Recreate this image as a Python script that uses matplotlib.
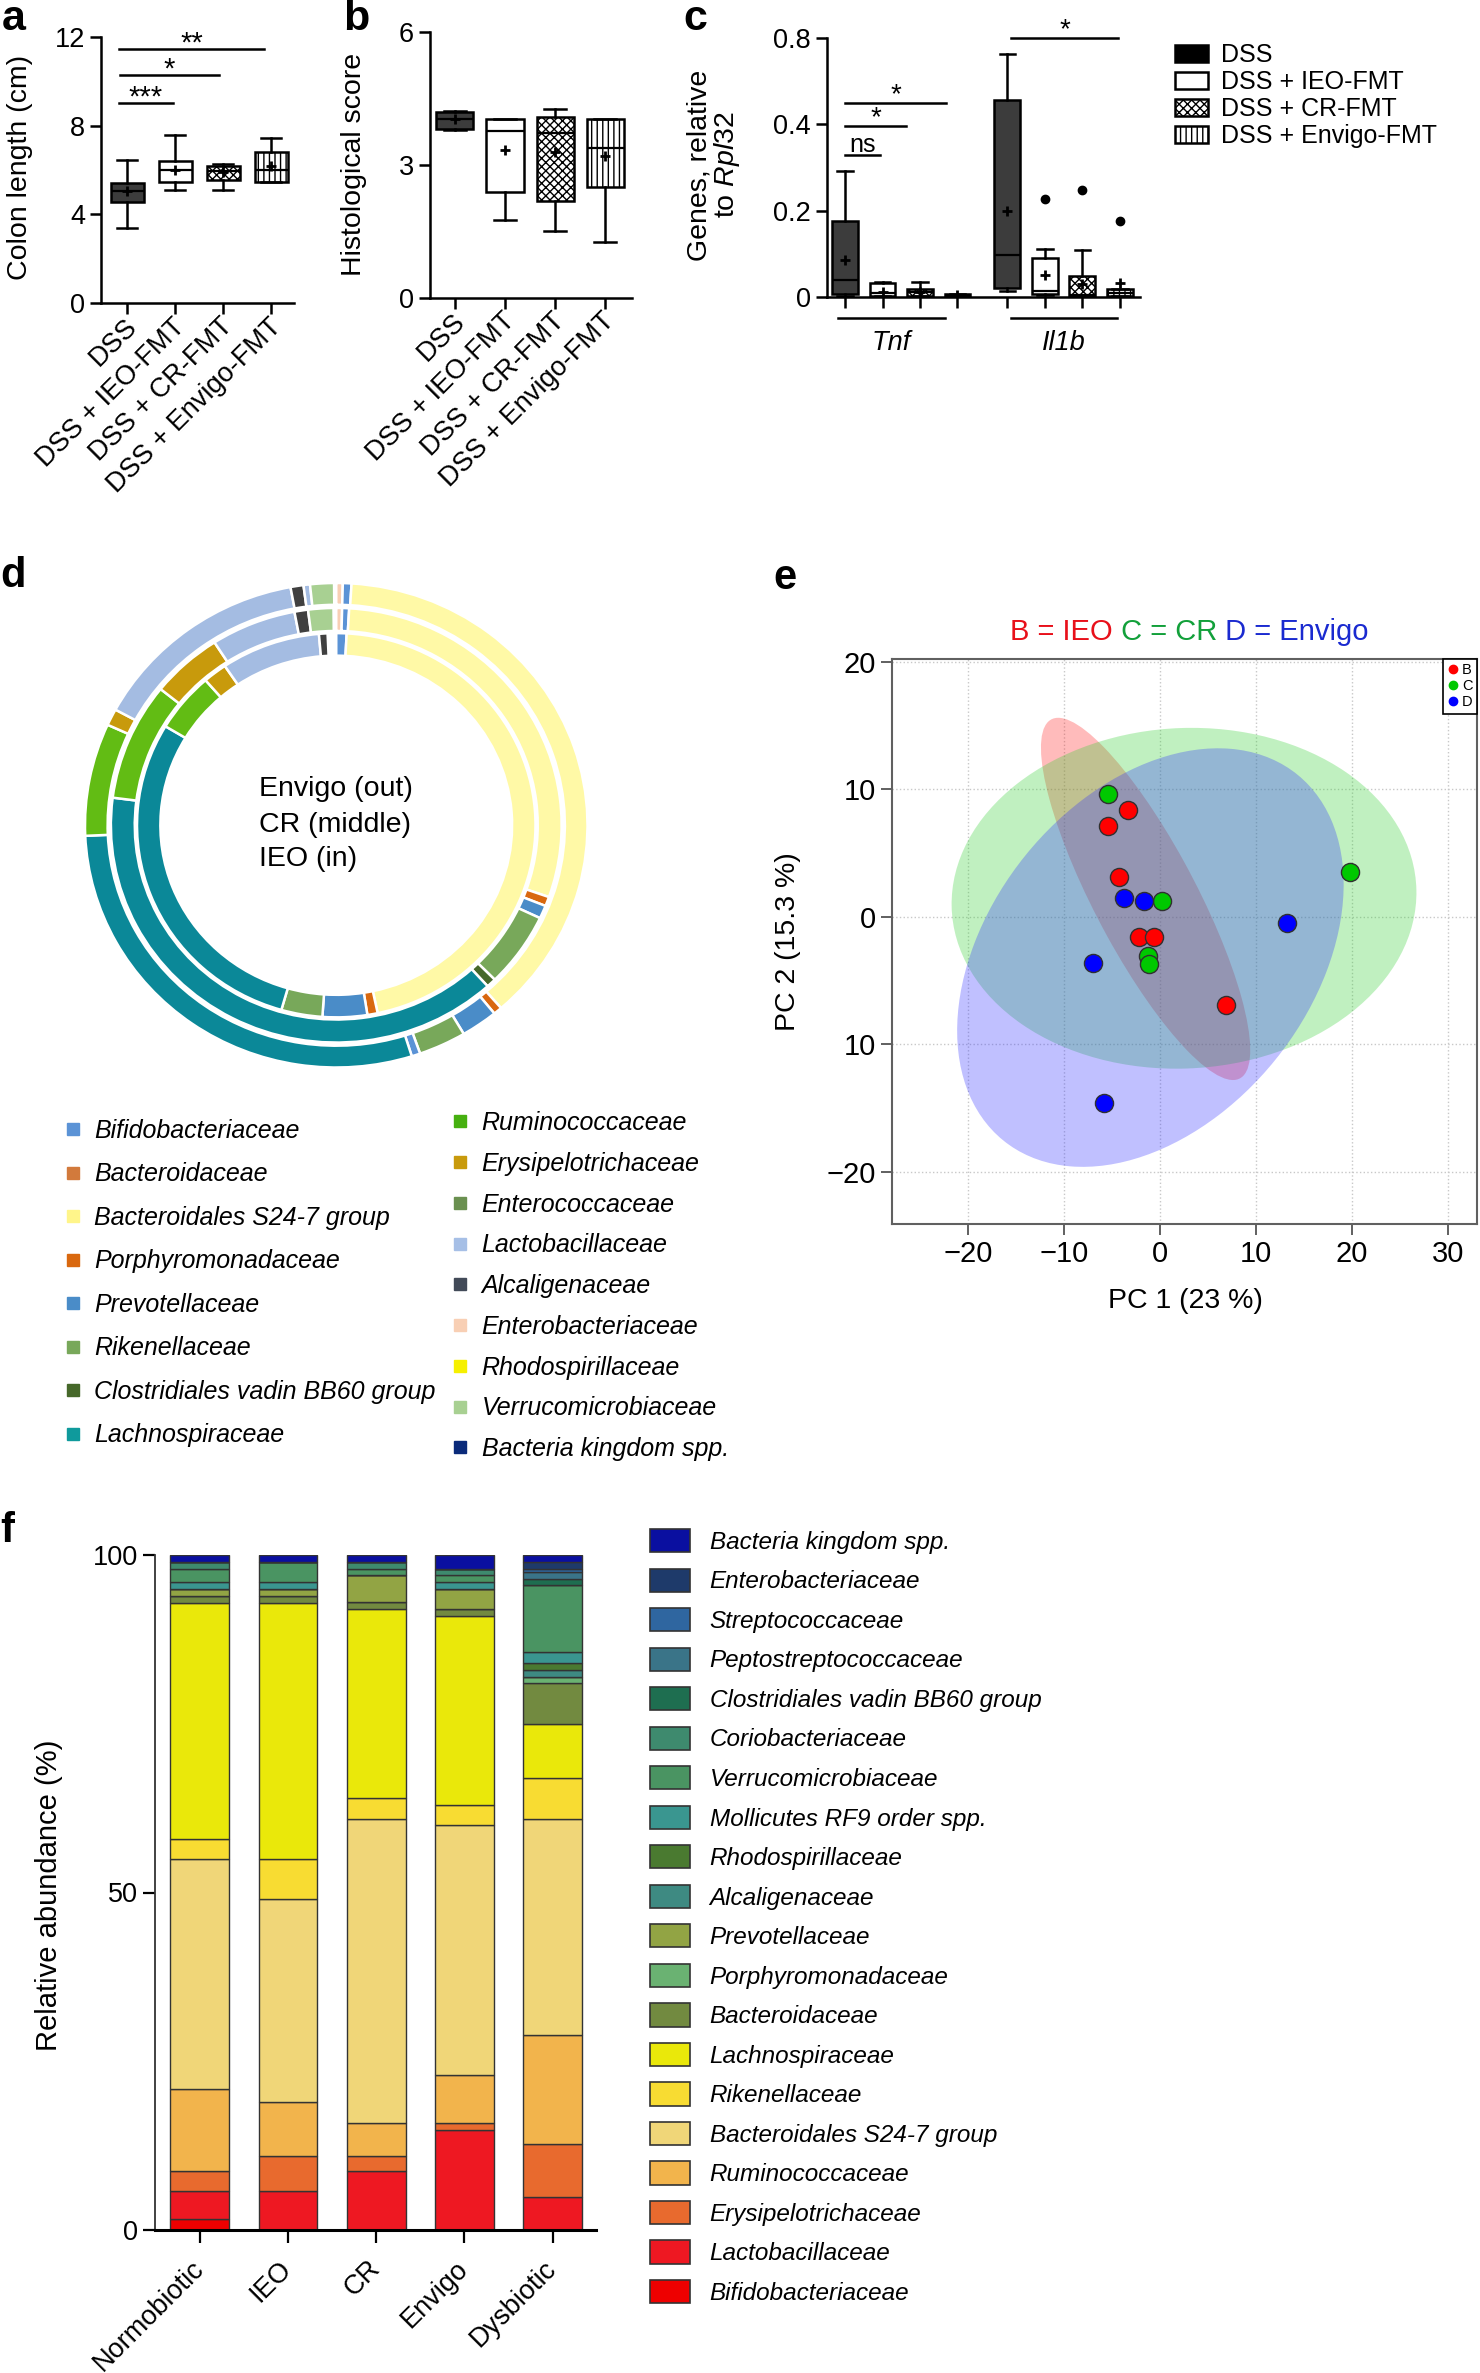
import numpy as np
import matplotlib
matplotlib.use('Agg')
import matplotlib.pyplot as plt
from matplotlib.patches import Patch, Ellipse
from matplotlib.lines import Line2D
from matplotlib.transforms import ScaledTranslation

plt.rcParams['font.family'] = ['Liberation Sans', 'DejaVu Sans']
plt.rcParams['mathtext.fontset'] = 'custom'
plt.rcParams['mathtext.rm'] = 'Liberation Sans'
plt.rcParams['mathtext.it'] = 'Liberation Sans:italic'
plt.rcParams['hatch.linewidth'] = 1.0

# ---------------- data ----------------
groups = ['DSS', 'DSS + IEO-FMT', 'DSS + CR-FMT', 'DSS + Envigo-FMT']

# a: colon length (cm)
colon_whislo = [3.40, 5.08, 5.08, 5.48]
colon_q1 = [4.57, 5.48, 5.53, 5.48]
colon_med = [5.05, 5.99, 5.95, 5.99]
colon_q3 = [5.41, 6.41, 6.20, 6.80]
colon_whishi = [6.47, 7.58, 6.29, 7.43]
colon_mean = [5.05, 6.00, 5.93, 6.17]
colon_sig = [('***', -0.17, 0.94, 9.02), ('*', -0.15, 1.90, 10.28), ('**', -0.17, 2.84, 11.46)]

# b: histological score
hist_whislo = [3.79, 1.75, 1.50, 1.26]
hist_q1 = [3.81, 2.38, 2.17, 2.50]
hist_med = [4.02, 3.75, 3.72, 3.38]
hist_q3 = [4.19, 4.02, 4.07, 4.02]
hist_whishi = [4.21, 4.02, 4.25, 4.02]
hist_mean = [4.02, 3.33, 3.29, 3.20]

# c: genes relative to Rpl32 (Tnf x4, Il1b x4)
gene_pos = [0, 1, 2, 3, 4.33, 5.33, 6.33, 7.33]
gene_whislo = [0.003, 0.002, 0.002, 0.001, 0.014, 0.004, 0.002, 0.002]
gene_q1 = [0.006, 0.003, 0.003, 0.002, 0.022, 0.006, 0.003, 0.003]
gene_med = [0.040, 0.010, 0.012, 0.004, 0.098, 0.013, 0.005, 0.010]
gene_q3 = [0.177, 0.032, 0.018, 0.007, 0.514, 0.091, 0.048, 0.018]
gene_whishi = [0.292, 0.035, 0.034, 0.008, 0.726, 0.112, 0.109, 0.018]
gene_mean = [0.085, 0.012, 0.012, 0.004, 0.200, 0.052, 0.030, 0.032]
gene_fliers = [[], [], [], [], [], [0.227], [0.248], [0.175]]
gene_sig = [('ns', 0.0, 0.92, 0.329), ('*', 0.0, 1.63, 0.395), ('*', 0.0, 2.69, 0.498), ('*', 4.44, 7.27, 0.80)]
gene_groups = [('Tnf', -0.19, 2.67), ('Il1b', 4.44, 7.25)]

# d: family rings (segments clockwise from the top, in degrees)
ring_envigo_names = ['Enterobacteriaceae', 'Bifidobacteriaceae', 'Bacteroidales S24-7 group', 'Porphyromonadaceae',
                     'Prevotellaceae', 'Rikenellaceae', 'Bifidobacteriaceae', 'Lachnospiraceae', 'Ruminococcaceae',
                     'Erysipelotrichaceae', 'Lactobacillaceae', 'Alcaligenaceae', 'Lactobacillaceae',
                     'Verrucomicrobiaceae']
ring_envigo_deg = [1.5, 2.0, 135.5, 2.0, 8.5, 11.0, 2.0, 105.0, 27.0, 4.0, 51.0, 3.0, 1.5, 5.5]
ring_cr_names = ['Enterobacteriaceae', 'Bifidobacteriaceae', 'Bacteroidales S24-7 group', 'Porphyromonadaceae',
                 'Prevotellaceae', 'Rikenellaceae', 'Clostridiales vadin BB60 group', 'Lachnospiraceae',
                 'Ruminococcaceae', 'Erysipelotrichaceae', 'Lactobacillaceae', 'Alcaligenaceae',
                 'Verrucomicrobiaceae']
ring_cr_deg = [1.5, 1.8, 106.0, 2.5, 3.5, 20.0, 2.5, 139.5, 31.5, 18.5, 22.0, 3.5, 6.5]
ring_ieo_names = ['Bifidobacteriaceae', 'Bacteroidales S24-7 group', 'Porphyromonadaceae', 'Prevotellaceae',
                  'Rikenellaceae', 'Lachnospiraceae', 'Ruminococcaceae', 'Erysipelotrichaceae', 'Lactobacillaceae',
                  'Alcaligenaceae']
ring_ieo_deg = [3.0, 165.0, 3.0, 13.0, 12.0, 105.0, 18.0, 7.0, 29.0, 2.5]

d_left_names = ['Bifidobacteriaceae', 'Bacteroidaceae', 'Bacteroidales S24-7 group', 'Porphyromonadaceae',
                'Prevotellaceae', 'Rikenellaceae', 'Clostridiales vadin BB60 group', 'Lachnospiraceae']
d_right_names = ['Ruminococcaceae', 'Erysipelotrichaceae', 'Enterococcaceae', 'Lactobacillaceae', 'Alcaligenaceae',
                 'Enterobacteriaceae', 'Rhodospirillaceae', 'Verrucomicrobiaceae', 'Bacteria kingdom spp.']
d_colors = {
    'Bifidobacteriaceae': '#5b93d6', 'Bacteroidaceae': '#d27a3c', 'Bacteroidales S24-7 group': '#fff58a',
    'Porphyromonadaceae': '#d9680f', 'Prevotellaceae': '#4a8cc8', 'Rikenellaceae': '#78a85a',
    'Clostridiales vadin BB60 group': '#46682a', 'Lachnospiraceae': '#0f9a9c', 'Ruminococcaceae': '#46b010',
    'Erysipelotrichaceae': '#c89a0c', 'Enterococcaceae': '#6a9050', 'Lactobacillaceae': '#a6bfe6',
    'Alcaligenaceae': '#424a58', 'Enterobacteriaceae': '#f8cfb4', 'Rhodospirillaceae': '#f6f000',
    'Verrucomicrobiaceae': '#a8d092', 'Bacteria kingdom spp.': '#0a2a7a'}
ring_colors = dict(d_colors)
ring_colors.update({'Bacteroidales S24-7 group': '#fff9a6', 'Lachnospiraceae': '#0b8898',
                    'Ruminococcaceae': '#62bc14', 'Lactobacillaceae': '#a4bce2', 'Alcaligenaceae': '#404040'})

# e: PCA
pc_b_x = [-3.3, -5.4, -4.3, -2.2, -0.6, 6.9]
pc_b_y = [8.4, 7.1, 3.1, -1.6, -1.6, -6.9]
pc_c_x = [-5.4, 0.2, -1.2, -1.1, 19.8]
pc_c_y = [9.6, 1.2, -3.1, -3.7, 3.5]
pc_d_x = [-3.7, -1.7, -7.0, 13.2, -5.8]
pc_d_y = [1.5, 1.2, -3.6, -0.5, -14.6]
# ellipses: centre x, centre y, width, height, angle
ell_b = (-1.5, 1.4, 34.4, 9.9, 126.1)
ell_c = (2.5, 1.45, 48.4, 26.7, 1.5)
ell_d = (-1.0, -3.2, 43.4, 28.5, 29.8)

# f: relative abundance (bottom to top)
f_samples = ['Normobiotic', 'IEO', 'CR', 'Envigo', 'Dysbiotic']
f_families = ['Bifidobacteriaceae', 'Lactobacillaceae', 'Erysipelotrichaceae', 'Ruminococcaceae',
              'Bacteroidales S24-7 group', 'Rikenellaceae', 'Lachnospiraceae', 'Bacteroidaceae',
              'Porphyromonadaceae', 'Prevotellaceae', 'Alcaligenaceae', 'Rhodospirillaceae',
              'Mollicutes RF9 order spp.', 'Verrucomicrobiaceae', 'Coriobacteriaceae',
              'Clostridiales vadin BB60 group', 'Peptostreptococcaceae', 'Streptococcaceae',
              'Enterobacteriaceae', 'Bacteria kingdom spp.']
f_values = [
    [1.7, 0, 0, 0, 0],
    [4.1, 5.8, 8.8, 14.8, 4.9],
    [3.0, 5.1, 2.1, 1.1, 7.9],
    [12.1, 8.0, 5.0, 7.0, 16.1],
    [34.1, 30.1, 45.0, 37.1, 32.0],
    [2.9, 6.0, 3.1, 3.0, 6.1],
    [35.0, 37.9, 28.0, 28.0, 8.0],
    [1.1, 1.1, 1.0, 1.0, 6.0],
    [0, 0, 0, 0, 1.0],
    [1.0, 1.0, 4.0, 3.0, 0],
    [0, 0, 0, 0, 1.0],
    [0, 0, 0, 0, 1.0],
    [1.0, 1.0, 0, 1.0, 1.6],
    [2.0, 3.0, 1.0, 1.0, 9.9],
    [1.0, 0, 1.0, 1.0, 0],
    [0, 0, 0, 0, 1.0],
    [0, 0, 0, 0, 1.0],
    [0, 0, 0, 0, 0.5],
    [0, 0, 0, 0, 1.0],
    [1.0, 1.0, 1.0, 2.0, 1.0]]
f_colors = ['#ee0000', '#ee1822', '#e86a2e', '#f2b44c', '#f0d678', '#f8dc32', '#eae80a', '#728a40',
            '#6ab272', '#92a444', '#3e8a82', '#4a7a30', '#3a9690', '#4a9462', '#3e8a6e', '#1e6e50',
            '#3a7488', '#2f66a0', '#1e3a6a', '#0a0fa0']

# ---------------- figure ----------------
W, H = 1480, 2373
fig = plt.figure(figsize=(W / 100, H / 100), dpi=100)


def box(l, t, r, b):
    return [l / W, 1 - b / H, (r - l) / W, (b - t) / H]


def stats_list(wlo, q1, med, q3, whi, mean, fliers=None):
    out = []
    for i in range(len(med)):
        out.append(dict(whislo=wlo[i], q1=q1[i], med=med[i], q3=q3[i], whishi=whi[i], mean=mean[i],
                        fliers=fliers[i] if fliers else []))
    return out


FS = 19.5
faces = ['#3c3c3c', 'white', 'white', 'white']
hatches = ['', '', 'xxxx', '|||']


def draw_boxes(ax, stats, pos, width):
    bp = ax.bxp(stats, positions=pos, widths=width, patch_artist=True, showmeans=True, showfliers=True,
                capwidths=width * 0.6,
                boxprops=dict(linewidth=1.8, edgecolor='black'),
                medianprops=dict(color='black', linewidth=1.6),
                whiskerprops=dict(linewidth=1.8, color='black'),
                capprops=dict(linewidth=1.8, color='black'),
                meanprops=dict(marker='+', markeredgecolor='black', markeredgewidth=2, markersize=7),
                flierprops=dict(marker='o', markerfacecolor='black', markeredgecolor='black', markersize=6))
    for i, patch in enumerate(bp['boxes']):
        patch.set_facecolor(faces[i % 4])
        patch.set_hatch(hatches[i % 4])


def style_axes(ax):
    for s in ['top', 'right']:
        ax.spines[s].set_visible(False)
    for s in ['left', 'bottom']:
        ax.spines[s].set_linewidth(1.8)
    ax.tick_params(width=1.8, length=8, labelsize=FS)


def group_labels(ax):
    ax.set_xticks(range(4))
    ax.set_xticklabels(groups, rotation=45, ha='right', va='center', rotation_mode='anchor', fontsize=FS)
    ax.tick_params(axis='x', pad=6)
    shift = ScaledTranslation(0.06, 0, fig.dpi_scale_trans)
    for lab in ax.get_xticklabels():
        lab.set_transform(lab.get_transform() + shift)


def sig_label(ax, txt, x, y, off, size):
    ax.annotate(txt, xy=(x, y), xytext=(0, off), textcoords='offset points', ha='center', va='baseline',
                fontsize=size)


# a
ax_a = fig.add_axes(box(101, 37, 294, 303))
draw_boxes(ax_a, stats_list(colon_whislo, colon_q1, colon_med, colon_q3, colon_whishi, colon_mean),
           range(4), 0.69)
ax_a.set_xlim(-0.55, 3.47)
ax_a.set_ylim(0, 12)
ax_a.set_yticks([0, 4, 8, 12])
style_axes(ax_a)
group_labels(ax_a)
ax_a.set_ylabel('Colon length (cm)', fontsize=20.5)
ax_a.yaxis.set_label_coords(-0.35, 0.51)
for txt, x1, x2, y in colon_sig:
    ax_a.plot([x1, x2], [y, y], color='black', lw=1.8, clip_on=False)
    sig_label(ax_a, txt, (x1 + x2) / 2, y, -2.0, 21)

# b
ax_b = fig.add_axes(box(430, 31.7, 632, 297.7))
draw_boxes(ax_b, stats_list(hist_whislo, hist_q1, hist_med, hist_q3, hist_whishi, hist_mean), range(4), 0.74)
ax_b.set_xlim(-0.5, 3.54)
ax_b.set_ylim(0, 6)
ax_b.set_yticks([0, 3, 6])
style_axes(ax_b)
group_labels(ax_b)
ax_b.set_ylabel('Histological score', fontsize=20.5)
ax_b.yaxis.set_label_coords(-0.31, 0.5)


# c: y axis linear to 0.4, compressed from 0.4 to 0.8
def fwd(v):
    v = np.asarray(v, dtype=float)
    return np.where(v <= 0.4, v, 0.4 + (v - 0.4) / 2)


def inv(u):
    u = np.asarray(u, dtype=float)
    return np.where(u <= 0.4, u, 0.4 + (u - 0.4) * 2)


ax_c = fig.add_axes(box(826.7, 38, 1140, 297))
ax_c.set_yscale('function', functions=(fwd, inv))
draw_boxes(ax_c, stats_list(gene_whislo, gene_q1, gene_med, gene_q3, gene_whishi, gene_mean, gene_fliers),
           gene_pos, 0.69)
ax_c.set_xlim(-0.49, 7.87)
ax_c.set_ylim(0, 0.8)
ax_c.set_yticks([0, 0.2, 0.4, 0.8])
ax_c.set_yticklabels(['0', '0.2', '0.4', '0.8'])
ax_c.yaxis.set_minor_locator(matplotlib.ticker.NullLocator())
style_axes(ax_c)
ax_c.set_xticks(gene_pos)
ax_c.set_xticklabels([])
ax_c.set_ylabel('Genes, relative\nto $\\mathit{Rpl32}$', fontsize=20.5, linespacing=1.0)
ax_c.yaxis.set_label_coords(-0.27, 0.51)
for txt, x1, x2, y in gene_sig:
    ax_c.plot([x1, x2], [y, y], color='black', lw=1.8, clip_on=False)
    if txt == 'ns':
        sig_label(ax_c, txt, (x1 + x2) / 2, y, 2.5, 18)
    else:
        sig_label(ax_c, txt, (x1 + x2) / 2, y, 0.8, 20)
for name, x1, x2 in gene_groups:
    ax_c.plot([x1, x2], [-0.081, -0.081], color='black', lw=1.8, clip_on=False,
              transform=ax_c.get_xaxis_transform())
    ax_c.text((x1 + x2) / 2, -0.178, name, ha='center', va='center', fontsize=FS, style='italic',
              transform=ax_c.get_xaxis_transform())

c_handles = [Patch(facecolor=f if f != '#3c3c3c' else 'black', edgecolor='black', hatch=h, linewidth=1.8)
             for f, h in zip(faces, hatches)]
fig.legend(c_handles, groups, loc='upper left', bbox_to_anchor=(1175 / W, 1 - 43 / H), frameon=False,
           fontsize=18, borderpad=0, borderaxespad=0, handlelength=1.3, handleheight=0.65,
           handletextpad=0.55, labelspacing=0.12)

# d
ax_d = fig.add_axes(box(85, 583, 587.5, 1067.5))
for names, deg, rad, wid in [(ring_envigo_names, ring_envigo_deg, 1.0, 0.09),
                             (ring_cr_names, ring_cr_deg, 0.897, 0.095),
                             (ring_ieo_names, ring_ieo_deg, 0.793, 0.093)]:
    ax_d.pie(np.array(deg) / 360.0, radius=rad, colors=[ring_colors[n] for n in names], startangle=90,
             counterclock=False, normalize=False,
             wedgeprops=dict(width=wid, edgecolor='white', linewidth=1.8))
ax_d.set_aspect('auto')
ax_d.set_xlim(-1, 1)
ax_d.set_ylim(-1, 1)
ax_d.axis('off')
for txt, yy in [('Envigo (out)', 0.149), ('CR (middle)', 0.002), ('IEO (in)', -0.138)]:
    ax_d.text(-0.309, yy, txt, ha='left', va='center', fontsize=20.5)

for names, x0, top, sp in [(d_left_names, 65.5, 1119, 0.78), (d_right_names, 452.5, 1111, 0.67)]:
    hs = [Line2D([], [], ls='', marker='s', markersize=8, color=d_colors[n]) for n in names]
    fig.legend(hs, names, loc='upper left', bbox_to_anchor=(x0 / W, 1 - top / H), frameon=False,
               prop=dict(style='italic', size=18), borderpad=0, borderaxespad=0,
               handlelength=0.6, handletextpad=0.56, labelspacing=sp)

# e
ax_e = fig.add_axes(box(892, 658.6, 1477, 1223.9))
for (cx, cy, w, h, ang), col in [(ell_b, '#ff2020'), (ell_c, '#30d030'), (ell_d, '#3030ff')]:
    ax_e.add_patch(Ellipse((cx, cy), w, h, angle=ang, facecolor=col, alpha=0.3, edgecolor='none'))
for xs, ys, col in [(pc_b_x, pc_b_y, '#ff0000'), (pc_c_x, pc_c_y, '#00c800'), (pc_d_x, pc_d_y, '#0000ff')]:
    ax_e.scatter(xs, ys, s=170, color=col, edgecolor='#303030', linewidth=1.0, zorder=3)
ax_e.set_xlim(-27.9, 33.0)
ax_e.set_ylim(-24.08, 20.24)
ax_e.set_xticks([-20, -10, 0, 10, 20, 30])
ax_e.set_yticks([-20, -10, 0, 10, 20])
ax_e.set_yticklabels(['\u221220', '10', '0', '10', '20'])
ax_e.grid(True, ls=':', color='#c8c8c8', lw=1.0)
ax_e.set_axisbelow(True)
for s in ax_e.spines.values():
    s.set_color('#606060')
    s.set_linewidth(1.5)
ax_e.tick_params(labelsize=21, color='#606060', length=8, width=1.4)
ax_e.set_xlabel('PC 1 (23 %)', fontsize=20.5)
ax_e.set_ylabel('PC 2 (15.3 %)', fontsize=20.5)
ax_e.xaxis.set_label_coords(0.502, -0.113)
ax_e.yaxis.set_label_coords(-0.155, 0.5)
e_handles = [Line2D([], [], ls='', marker='o', markersize=6, color=c) for c in ['#ff0000', '#00c800', '#0000ff']]
leg_e = ax_e.legend(e_handles, ['B', 'C', 'D'], loc='upper right', fontsize=10.5, borderaxespad=0,
                    handlelength=0.7, handletextpad=0.3, borderpad=0.3, labelspacing=0.15, fancybox=False,
                    framealpha=1)
leg_e.get_frame().set_edgecolor('black')
leg_e.get_frame().set_linewidth(1.2)
t1 = ax_e.text(1010 / W, 1 - 640 / H, 'B = IEO', color='#e8101a', fontsize=21, transform=fig.transFigure,
               va='baseline')
t2 = ax_e.annotate(' C = CR', xy=(1, 0), xycoords=t1, va='bottom', color='#12a03a', fontsize=21)
ax_e.annotate(' D = Envigo', xy=(1, 0), xycoords=t2, va='bottom', color='#1a2ad0', fontsize=21)

# f
ax_f = fig.add_axes(box(155.1, 1555, 596, 2230))
xpos = np.arange(len(f_samples))
bottom = np.zeros(len(f_samples))
for vals, col in zip(f_values, f_colors):
    ax_f.bar(xpos, vals, bottom=bottom, width=0.667, color=col, edgecolor='#333333', linewidth=1.0)
    bottom += np.array(vals)
ax_f.set_xlim(-0.505, 4.49)
ax_f.set_ylim(0, 100)
ax_f.set_yticks([0, 50, 100])
for s in ['top', 'right']:
    ax_f.spines[s].set_visible(False)
ax_f.spines['left'].set_linewidth(1.3)
ax_f.spines['left'].set_color('#333333')
ax_f.spines['bottom'].set_linewidth(2.2)
ax_f.tick_params(labelsize=19.5, width=1.6, length=9)
ax_f.set_xticks(xpos)
ax_f.set_xticklabels(f_samples, rotation=45, ha='right', va='center', rotation_mode='anchor', fontsize=19.5)
ax_f.tick_params(axis='x', pad=16)
ax_f.set_ylabel('Relative abundance (%)', fontsize=21)
ax_f.yaxis.set_label_coords(-0.208, 0.496)

f_handles = [Patch(facecolor=c, edgecolor='#333333', linewidth=1.2) for c in f_colors[::-1]]
fig.legend(f_handles, f_families[::-1], loc='upper left', bbox_to_anchor=(650 / W, 1 - 1529 / H), frameon=False,
           prop=dict(style='italic', size=17.5), borderpad=0, borderaxespad=0, handlelength=1.65,
           handleheight=1.1, handletextpad=0.8, labelspacing=0.6)

# panel letters
for letter, x, y, size in [('a', 2, 30, 31), ('b', 343, 30, 31), ('c', 683, 30, 31), ('d', 0, 587, 30),
                           ('e', 773, 589, 30), ('f', 0, 1542, 30)]:
    fig.text(x / W, 1 - y / H, letter, fontsize=size, fontweight='bold', va='baseline')

fig.savefig('out.png', dpi=100)
